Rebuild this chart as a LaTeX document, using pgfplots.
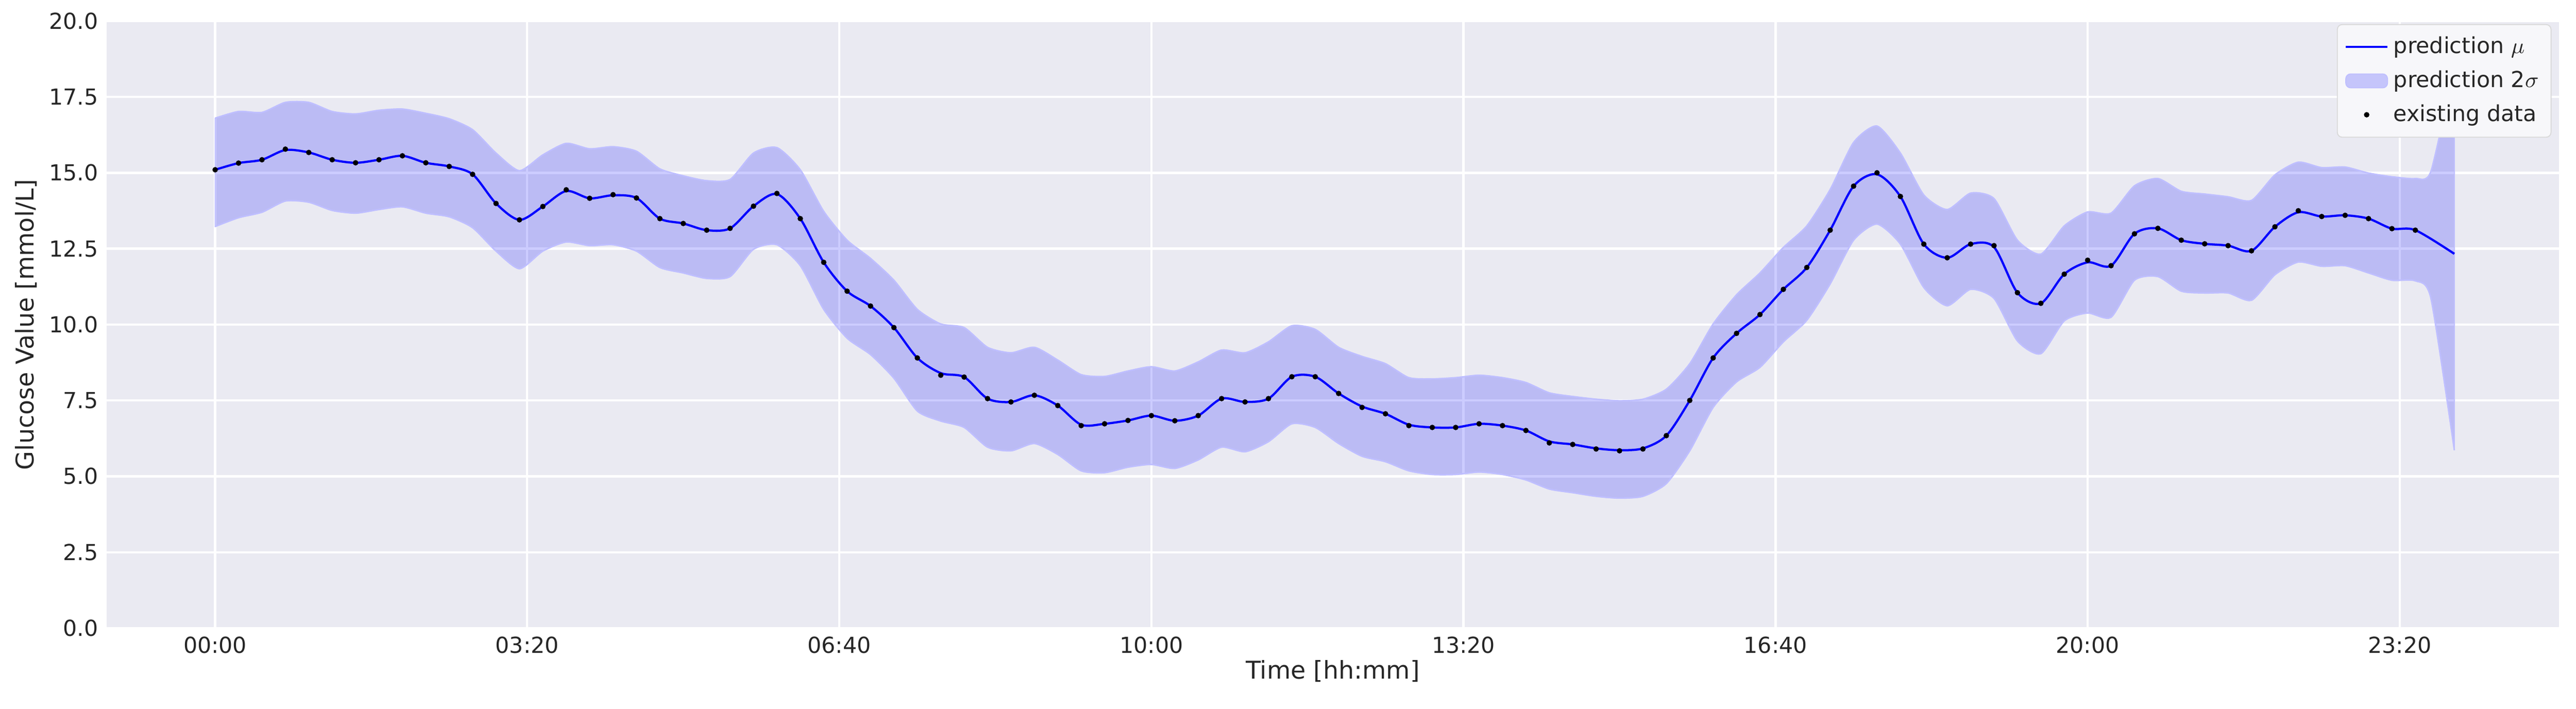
\documentclass[border=0pt]{standalone}
\usepackage{fontspec}
\setmainfont{DejaVu Sans}
\usepackage{pgfplots}
\pgfplotsset{compat=1.18}
\usepgfplotslibrary{fillbetween}
\definecolor{bgc}{HTML}{EAEAF2}
\definecolor{txt}{HTML}{262626}
\begin{document}
\begin{tikzpicture}
\begin{axis}[
  scale only axis, width=1002pt, height=248pt,
  xmin=-69.5, xmax=1502, ymin=0, ymax=20,
  axis background/.style={fill=bgc},
  axis line style={draw=none},
  major tick length=0pt,
  grid=major, grid style={white, line width=0.9pt},
  xtick={0,200,400,600,800,1000,1200,1400},
  xticklabels={00:00,03:20,06:40,10:00,13:20,16:40,20:00,23:20},
  ytick={0,2.5,5,7.5,10,12.5,15,17.5,20},
  yticklabel style={/pgf/number format/.cd,fixed,fixed zerofill,precision=1},
  /pgf/number format/assume math mode=true,
  tick label style={font=\fontsize{9}{11}\selectfont, text=txt},
  label style={font=\fontsize{10}{12}\selectfont, text=txt},
  xlabel={Time [hh:mm]}, ylabel={Glucose Value [mmol/L]},
  xlabel style={yshift=4pt}, ylabel style={yshift=-2pt},
  legend style={at={(0.997,0.995)}, anchor=north east, font=\fontsize{9}{11}\selectfont, text=txt, fill=bgc!40!white, draw=black!15, rounded corners=2pt, row sep=1.5pt, inner sep=3pt},
  legend cell align=left,
]
\addplot[blue, line width=0.9pt, smooth, tension=0.5] coordinates {
(0,15.10)(15,15.32)(30,15.43)(45,15.75)(60,15.67)(75,15.43)(90,15.33)(105,15.43)(120,15.56)(135,15.33)(150,15.21)(165,14.95)(180,13.99)(195,13.45)(210,13.89)(225,14.40)(240,14.16)(255,14.26)(270,14.17)(285,13.49)(300,13.33)(315,13.11)(330,13.17)(345,13.90)(360,14.30)(375,13.49)(390,12.05)(405,11.10)(420,10.61)(435,9.90)(450,8.90)(465,8.40)(480,8.27)(495,7.56)(510,7.45)(525,7.67)(540,7.33)(555,6.70)(570,6.73)(585,6.84)(600,7.00)(615,6.83)(630,7.00)(645,7.56)(660,7.45)(675,7.56)(690,8.28)(705,8.28)(720,7.73)(735,7.30)(750,7.06)(765,6.70)(780,6.61)(795,6.61)(810,6.73)(825,6.67)(840,6.51)(855,6.15)(870,6.05)(885,5.92)(900,5.86)(915,5.92)(930,6.34)(945,7.50)(960,8.90)(975,9.71)(990,10.33)(1005,11.16)(1020,11.88)(1035,13.11)(1050,14.56)(1065,14.95)(1080,14.22)(1095,12.65)(1110,12.20)(1125,12.65)(1140,12.55)(1155,11.05)(1170,10.70)(1185,11.66)(1200,12.05)(1215,11.94)(1230,12.99)(1245,13.17)(1260,12.78)(1275,12.66)(1290,12.60)(1305,12.43)(1320,13.22)(1335,13.70)(1350,13.56)(1365,13.60)(1380,13.49)(1395,13.16)(1410,13.11)(1435,12.33)};
\addlegendentry{prediction $\mu$}
\addplot[name path=up, draw=blue!25, line width=0.6pt, smooth, tension=0.4, forget plot] coordinates {
(0,16.80)(15,17.02)(30,16.99)(45,17.32)(60,17.32)(75,17.02)(90,16.94)(105,17.06)(120,17.10)(135,16.96)(150,16.78)(165,16.42)(180,15.65)(195,15.07)(210,15.59)(225,15.97)(240,15.79)(255,15.86)(270,15.71)(285,15.13)(300,14.90)(315,14.74)(330,14.78)(345,15.65)(360,15.83)(375,15.10)(390,13.73)(405,12.78)(420,12.18)(435,11.46)(450,10.50)(465,10.02)(480,9.90)(495,9.25)(510,9.07)(525,9.25)(540,8.83)(555,8.35)(570,8.29)(585,8.47)(600,8.61)(615,8.47)(630,8.77)(645,9.16)(660,9.07)(675,9.43)(690,9.96)(705,9.84)(720,9.25)(735,8.95)(750,8.71)(765,8.25)(780,8.21)(795,8.25)(810,8.33)(825,8.25)(840,8.09)(855,7.75)(870,7.63)(885,7.54)(900,7.49)(915,7.54)(930,7.87)(945,8.71)(960,10.02)(975,10.98)(990,11.70)(1005,12.54)(1020,13.25)(1035,14.45)(1050,16.00)(1065,16.54)(1080,15.65)(1095,14.27)(1110,13.79)(1125,14.33)(1140,14.15)(1155,12.78)(1170,12.32)(1185,13.25)(1200,13.71)(1215,13.67)(1230,14.57)(1245,14.81)(1260,14.39)(1275,14.30)(1290,14.21)(1305,14.09)(1320,14.93)(1335,15.35)(1350,15.17)(1365,15.19)(1380,14.99)(1395,14.87)(1410,14.81)(1420,15.05)(1435,18.50)};
\addplot[name path=lo, draw=blue!25, line width=0.6pt, smooth, tension=0.4, forget plot] coordinates {
(0,13.23)(15,13.52)(30,13.70)(45,14.07)(60,14.03)(75,13.76)(90,13.67)(105,13.79)(120,13.88)(135,13.67)(150,13.55)(165,13.19)(180,12.42)(195,11.84)(210,12.42)(225,12.72)(240,12.60)(255,12.63)(270,12.42)(285,11.88)(300,11.70)(315,11.52)(330,11.58)(345,12.48)(360,12.63)(375,11.94)(390,10.50)(405,9.55)(420,9.01)(435,8.23)(450,7.15)(465,6.82)(480,6.61)(495,5.96)(510,5.84)(525,6.08)(540,5.72)(555,5.18)(570,5.12)(585,5.30)(600,5.39)(615,5.26)(630,5.54)(645,5.96)(660,5.81)(675,6.14)(690,6.73)(705,6.61)(720,6.08)(735,5.66)(750,5.48)(765,5.18)(780,5.06)(795,5.06)(810,5.14)(825,5.06)(840,4.88)(855,4.58)(870,4.46)(885,4.34)(900,4.28)(915,4.34)(930,4.76)(945,5.84)(960,7.27)(975,8.11)(990,8.59)(1005,9.43)(1020,10.14)(1035,11.34)(1050,12.78)(1065,13.31)(1080,12.65)(1095,11.22)(1110,10.62)(1125,11.16)(1140,10.86)(1155,9.46)(1170,9.04)(1185,10.12)(1200,10.38)(1215,10.24)(1230,11.46)(1245,11.58)(1260,11.10)(1275,11.04)(1290,11.04)(1305,10.80)(1320,11.64)(1335,12.06)(1350,11.92)(1365,11.94)(1380,11.70)(1395,11.46)(1410,11.44)(1420,10.86)(1435,5.86)};
\addplot[fill=blue, fill opacity=0.2, draw=blue!25, draw opacity=1, area legend] fill between[of=up and lo];
\addlegendentry{prediction 2$\sigma$}
\addplot[only marks, mark=*, mark size=0.9pt, black] coordinates {
(0,15.10)(15,15.32)(30,15.43)(45,15.78)(60,15.67)(75,15.43)(90,15.33)(105,15.43)(120,15.56)(135,15.33)(150,15.21)(165,14.95)(180,13.99)(195,13.45)(210,13.89)(225,14.44)(240,14.16)(255,14.28)(270,14.17)(285,13.49)(300,13.33)(315,13.11)(330,13.17)(345,13.90)(360,14.32)(375,13.49)(390,12.05)(405,11.10)(420,10.61)(435,9.90)(450,8.90)(465,8.33)(480,8.27)(495,7.56)(510,7.45)(525,7.67)(540,7.33)(555,6.67)(570,6.73)(585,6.84)(600,7.00)(615,6.83)(630,7.00)(645,7.56)(660,7.45)(675,7.56)(690,8.28)(705,8.28)(720,7.73)(735,7.27)(750,7.06)(765,6.67)(780,6.61)(795,6.61)(810,6.73)(825,6.67)(840,6.51)(855,6.10)(870,6.05)(885,5.90)(900,5.84)(915,5.90)(930,6.34)(945,7.50)(960,8.90)(975,9.71)(990,10.33)(1005,11.16)(1020,11.88)(1035,13.11)(1050,14.56)(1065,15.00)(1080,14.22)(1095,12.65)(1110,12.20)(1125,12.65)(1140,12.60)(1155,11.05)(1170,10.70)(1185,11.66)(1200,12.12)(1215,11.94)(1230,12.99)(1245,13.17)(1260,12.78)(1275,12.66)(1290,12.60)(1305,12.43)(1320,13.22)(1335,13.75)(1350,13.56)(1365,13.60)(1380,13.49)(1395,13.16)(1410,13.11)};
\addlegendentry{existing data}
\end{axis}
\pgfresetboundingbox
\path (current axis.south west)+(-43.6pt,-33pt) rectangle ([xshift=7pt,yshift=8.6pt]current axis.north east);
\end{tikzpicture}
\end{document}
